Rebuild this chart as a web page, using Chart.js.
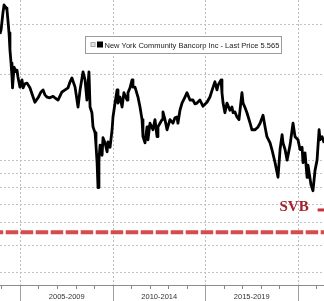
<!DOCTYPE html>
<html><head><meta charset="utf-8">
<script src="https://cdn.jsdelivr.net/npm/chart.js@4.4.1/dist/chart.umd.min.js"></script>
<style>html,body{margin:0;padding:0;background:#fff;overflow:hidden}canvas{display:block}</style>
</head><body>
<canvas id="c" width="324" height="301"></canvas>
<script>
// ---------- data ----------
const SERIES_LABEL = 'New York Community Bancorp Inc - Last Price 5.565';
const LAST_PRICE = 5.565;
const DATES = [2003.89,2003.95,2004.05,2004.11,2004.22,2004.27,2004.32,2004.38,2004.43,2004.49,2004.54,2004.57,2004.65,2004.76,2004.81,2004.86,2004.97,2005.08,2005.14,2005.24,2005.35,2005.51,2005.68,2005.78,2005.95,2006.11,2006.22,2006.32,2006.43,2006.59,2006.76,2006.86,2007.03,2007.24,2007.41,2007.57,2007.68,2007.78,2007.95,2008.11,2008.22,2008.38,2008.49,2008.59,2008.70,2008.76,2008.86,2008.92,2009.03,2009.08,2009.14,2009.19,2009.24,2009.30,2009.41,2009.46,2009.57,2009.68,2009.73,2009.84,2009.95,2010.00,2010.11,2010.22,2010.27,2010.38,2010.49,2010.59,2010.76,2010.81,2010.92,2011.03,2011.08,2011.19,2011.35,2011.46,2011.57,2011.62,2011.73,2011.84,2011.89,2012.00,2012.16,2012.27,2012.38,2012.43,2012.54,2012.65,2012.70,2012.81,2012.92,2013.08,2013.24,2013.35,2013.46,2013.51,2013.62,2013.73,2013.89,2014.00,2014.16,2014.32,2014.43,2014.54,2014.70,2014.86,2015.08,2015.24,2015.41,2015.51,2015.62,2015.68,2015.84,2015.89,2015.95,2016.05,2016.16,2016.32,2016.43,2016.49,2016.59,2016.70,2016.81,2016.97,2017.03,2017.14,2017.24,2017.41,2017.51,2017.68,2017.84,2017.95,2018.11,2018.22,2018.32,2018.49,2018.59,2018.76,2018.92,2019.03,2019.14,2019.19,2019.30,2019.41,2019.57,2019.73,2019.84,2020.00,2020.11,2020.22,2020.27,2020.38,2020.49,2020.54,2020.70,2020.81,2020.92,2021.03,2021.14,2021.19,2021.30,2021.41];
const PRICES = [27.9,28.8,33.1,35.3,34.4,33.9,31.2,28.1,24.5,22.0,19.7,18.0,21.3,20.5,20.8,19.7,18.1,19.2,18.0,18.6,18.7,18.0,16.7,16.0,16.6,17.4,17.7,17.0,16.7,16.6,16.8,16.6,16.3,17.4,17.7,18.0,18.9,19.5,18.1,15.4,17.7,20.5,19.2,16.3,20.5,15.4,14.7,13.1,12.5,11.3,9.8,8.0,10.0,11.3,10.4,12.0,11.5,10.7,11.6,11.1,12.8,14.2,15.9,17.7,15.9,16.7,15.4,17.3,16.3,17.3,18.0,19.2,18.1,18.1,16.7,15.4,13.9,12.1,11.5,13.1,11.8,13.5,12.8,13.9,12.1,13.1,13.5,13.9,14.8,13.9,12.8,13.9,13.5,14.1,14.2,13.5,15.0,15.9,16.7,17.3,16.3,16.3,15.8,15.9,16.3,15.5,16.0,16.7,18.1,18.9,17.7,18.4,19.2,17.3,15.9,14.7,15.9,15.0,15.4,14.7,14.8,14.2,13.9,17.3,15.9,15.3,14.7,13.5,12.8,12.8,13.1,13.5,14.4,13.1,12.1,11.5,10.9,9.8,8.7,10.9,12.3,11.5,10.9,10.0,11.3,13.5,12.1,11.8,10.9,11.1,9.8,10.6,8.7,9.6,8.2,7.8,9.2,10.0,12.8,11.8,12.1,11.5];
const YEAR_TICKS = [2004,2005,2006,2007,2008,2009,2010,2011,2012,2013,2014,2015,2016,2017,2018,2019,2020,2021];
const PERIOD_MIDS = [2007.5, 2012.5, 2017.5];
const PERIOD_LABELS = ['2005-2009', '2010-2014', '2015-2019'];
const PRICE_GRID = [4, 5, 6, 7, 8, 9, 10, 20, 30];
const ANNOTATION_TEXT = 'SVB';
const ANNOTATION_AT = [2019.0, 6.61];
const ARROW_X = [2021.06, 2021.6];
const ARROW_Y = 6.67;

// ---------- axis ranges (visible window of the original) ----------
const X_MIN = 2003.892, X_MAX = 2021.405;
const Y_MIN = 3.624, Y_MAX = 36.75;

const isMajorYear = v => v % 5 === 0;

const overlay = {
  id: 'overlay',
  afterDatasetsDraw(chart) {
    const {ctx, scales: {x, y}, chartArea} = chart;
    ctx.save();
    // period labels under the time axis
    ctx.font = '7.5px "Liberation Sans"';
    ctx.fillStyle = '#333';
    ctx.textAlign = 'center';
    ctx.textBaseline = 'middle';
    PERIOD_MIDS.forEach((m, i) => ctx.fillText(PERIOD_LABELS[i], x.getPixelForValue(m), x.bottom - 4.5));
    ctx.textAlign = 'left';
    // annotation
    ctx.font = 'bold 15px "Liberation Serif"';
    ctx.fillStyle = '#a8202a';
    ctx.textBaseline = 'alphabetic';
    ctx.fillText(ANNOTATION_TEXT, x.getPixelForValue(ANNOTATION_AT[0]), y.getPixelForValue(ANNOTATION_AT[1]));
    ctx.strokeStyle = '#c8343c';
    ctx.lineWidth = 3;
    ctx.beginPath();
    ctx.moveTo(x.getPixelForValue(ARROW_X[0]), y.getPixelForValue(ARROW_Y));
    ctx.lineTo(x.getPixelForValue(ARROW_X[1]), y.getPixelForValue(ARROW_Y));
    ctx.stroke();
    // legend box
    const bx = chartArea.left + 85.5, by = chartArea.top + 36.5, bw = 196, bh = 17;
    ctx.fillStyle = '#fff';
    ctx.fillRect(bx, by, bw, bh);
    ctx.strokeStyle = '#9a9a9a';
    ctx.lineWidth = 1;
    ctx.strokeRect(bx, by, bw, bh);
    ctx.fillStyle = '#e4e4e4';
    ctx.fillRect(bx + 5.5, by + 6, 4, 4);
    ctx.strokeStyle = '#aaa';
    ctx.strokeRect(bx + 5.5, by + 6, 4, 4);
    ctx.fillStyle = '#000';
    ctx.fillRect(bx + 11.5, by + 5, 6, 6);
    ctx.font = '7.5px "Liberation Sans"';
    ctx.fillStyle = '#222';
    ctx.textBaseline = 'middle';
    ctx.fillText(chart.data.datasets[0].label, bx + 19, by + bh / 2 + 0.5);
    ctx.restore();
  }
};

new Chart(document.getElementById('c'), {
  type: 'line',
  data: {
    datasets: [
      {
        label: SERIES_LABEL,
        data: DATES.map((d, i) => ({x: d, y: PRICES[i]})),
        borderColor: '#000',
        borderWidth: 2.8,
        pointRadius: 0,
        tension: 0,
        borderJoinStyle: 'round',
        order: 1
      },
      {
        label: 'Last price',
        data: [{x: X_MIN, y: LAST_PRICE}, {x: X_MAX, y: LAST_PRICE}],
        borderColor: 'rgba(208,62,62,0.92)',
        borderWidth: 4,
        borderDash: [12.5, 2.5],
        borderDashOffset: 9.3,
        pointRadius: 0,
        order: 2
      }
    ]
  },
  options: {
    responsive: false,
    animation: false,
    devicePixelRatio: 1,
    layout: {padding: 0},
    plugins: {legend: {display: false}, tooltip: {enabled: false}},
    scales: {
      x: {
        type: 'linear',
        position: 'bottom',
        min: X_MIN,
        max: X_MAX,
        afterBuildTicks: s => { s.ticks = YEAR_TICKS.map(v => ({value: v})); },
        ticks: {display: false},
        grid: {
          color: c => (c.tick && isMajorYear(c.tick.value)) ? '#bdbdbd' : 'rgba(0,0,0,0)',
          lineWidth: 1,
          tickLength: 16,
          tickWidth: 1,
          tickColor: c => (c.tick && isMajorYear(c.tick.value)) ? '#a0a0a0' : '#888',
          tickBorderDash: c => (c.tick && isMajorYear(c.tick.value)) ? [] : [3, 40]
        },
        border: {display: true, color: '#8c8c8c', width: 1, dash: [2, 2]}
      },
      y: {
        type: 'logarithmic',
        position: 'left',
        min: Y_MIN,
        max: Y_MAX,
        afterBuildTicks: s => { s.ticks = PRICE_GRID.map(v => ({value: v})); },
        ticks: {display: false},
        grid: {drawTicks: false, color: '#c2c2c2', lineWidth: 1},
        border: {display: false, dash: [2, 2]}
      }
    }
  },
  plugins: [overlay]
});
</script>
</body></html>
